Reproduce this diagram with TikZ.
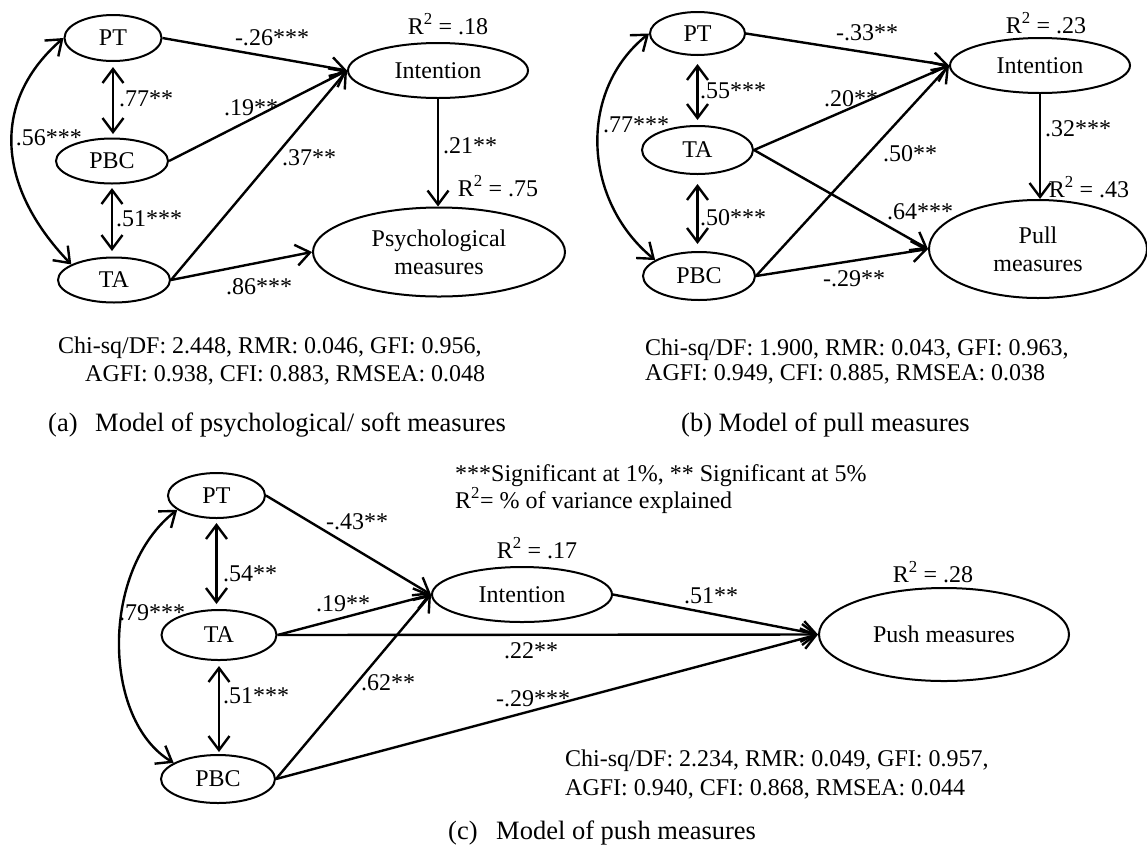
\documentclass[tikz,border=0pt]{standalone}
\usepackage{fontspec}
\setmainfont{Liberation Serif}
\usetikzlibrary{shapes.geometric,arrows.meta}
\begin{document}
\begin{tikzpicture}[x=1pt,y=-1pt,
  every node/.style={font=\fontsize{24}{28}\selectfont, inner sep=0pt},
  latent/.style={ellipse, draw, line width=2pt, align=center},
  coef/.style={text height=16pt, text depth=0pt},
  txt/.style={anchor=west, text height=16pt, text depth=0pt},
  caption/.style={anchor=west, text height=17.5pt, text depth=0pt, font=\fontsize{26.5}{30}\selectfont},
  barb/.tip={Straight Barb[length=14pt,width=21pt]},
  arr/.style={line width=2.4pt, -barb},
  dbl/.style={line width=2.4pt, barb-barb},
  ]
\useasboundingbox (0,0) rectangle (1147,847);

% ---------------- (a) psychological / soft measures ----------------
\node[latent, minimum width=97pt,  minimum height=46pt] (PTa)  at (113,38)    {PT};
\node[latent, minimum width=112pt, minimum height=45pt] (PBCa) at (112,161)   {PBC};
\node[latent, minimum width=112pt, minimum height=45pt] (TAa)  at (114,280)   {TA};
\node[latent, minimum width=180pt, minimum height=55pt] (INTa) at (438,70.5)  {Intention};
\node[latent, minimum width=252pt, minimum height=89pt] (PSYa) at (439,252)   {Psychological\\measures};

\draw[arr] (PTa.east)  -- (INTa.west);
\draw[arr] (PBCa.east) -- (INTa.west);
\draw[arr] (TAa.east)  -- (INTa.west);
\draw[arr] (TAa.east)  -- (PSYa.west);
\draw[arr] (INTa.south) -- (INTa.south |- PSYa.north);
\draw[dbl, shorten <=5pt, shorten >=3.5pt] (PTa.south) -- (PTa.south |- PBCa.north);
\draw[dbl, shorten <=3.5pt, shorten >=5.5pt] (PBCa.south) -- (PBCa.south |- TAa.north);
\draw[dbl] (PTa.west) .. controls (-8,100) and (-5,185) .. (TAa.160);

\node[coef] (r2a1) at (448,26)  {R\textsuperscript{2} = .18};
\node[coef] (r2a2) at (498,188) {R\textsuperscript{2} = .75};
\node[coef] (ca1) at (470,145) {.21**};
\node[coef] (ca2) at (272,37)  {-.26***};
\node[coef] (ca3) at (146,98)  {.77**};
\node[coef] (ca4) at (251,107) {.19**};
\node[coef] (ca5) at (49,137)  {.56***};
\node[coef] (ca6) at (309,157) {.37**};
\node[coef] (ca7) at (149,218) {.51***};
\node[coef] (ca8) at (259,286) {.86***};

\node[txt] (fita1) at (58,345) {Chi-sq/DF: 2.448, RMR: 0.046, GFI: 0.956,};
\node[txt] (fita2) at (85,373) {AGFI: 0.938, CFI: 0.883, RMSEA: 0.048};
\node[caption] (capa) at (48,423) {(a)\hspace{11pt} Model of psychological/ soft measures};

% ---------------- (b) pull measures ----------------
\node[latent, minimum width=95pt,  minimum height=43pt] (PTb)  at (697.5,33.5) {PT};
\node[latent, minimum width=111pt, minimum height=48pt] (TAb)  at (697.5,150)  {TA};
\node[latent, minimum width=112pt, minimum height=48pt] (PBCb) at (699,276)    {PBC};
\node[latent, minimum width=180pt, minimum height=55pt] (INTb) at (1040,65.5)  {Intention};
\node[latent, minimum width=218pt, minimum height=98pt] (PULb) at (1038,249)   {Pull\\measures};

\draw[arr] (PTb.east)  -- (INTb.west);
\draw[arr] (TAb.east)  -- (INTb.west);
\draw[arr] (PBCb.east) -- (INTb.west);
\draw[arr] (TAb.east)  -- (PULb.west);
\draw[arr] (PBCb.east) -- (PULb.west);
\draw[arr] (INTb.south) -- (INTb.south |- PULb.north);
\draw[dbl, shorten <=8pt, shorten >=5pt] (PTb.south) -- (PTb.south |- TAb.north);
\draw[dbl, shorten <=9pt, shorten >=7pt] (TAb.south) -- (TAb.south |- PBCb.north);
\draw[dbl] (PTb.west) .. controls (578,90) and (582,200) .. (PBCb.160);

\node[coef] (r2b1) at (1046,25)  {R\textsuperscript{2} = .23};
\node[coef] (r2b2) at (1089,189) {R\textsuperscript{2} = .43};
\node[coef] (cb1) at (1078,128) {.32***};
\node[coef] (cb2) at (910,153)  {.50**};
\node[coef] (cb3) at (920,211)  {.64***};
\node[coef] (cb4) at (854,278)  {-.29**};
\node[coef] (cb5) at (851,98)   {.20**};
\node[coef] (cb6) at (867,32)   {-.33**};
\node[coef] (cb7) at (733,90)   {.55***};
\node[coef] (cb8) at (636,124)  {.77***};
\node[coef] (cb9) at (733,217)  {.50***};

\node[txt] (fitb1) at (645,347) {Chi-sq/DF: 1.900, RMR: 0.043, GFI: 0.963,};
\node[txt] (fitb2) at (645,372) {AGFI: 0.949, CFI: 0.885, RMSEA: 0.038};
\node[caption] (capb) at (681,423) {(b) Model of pull measures};

% ---------------- (c) push measures ----------------
\node[latent, minimum width=97pt,  minimum height=45pt] (PTc)  at (216.5,495.5) {PT};
\node[latent, minimum width=115pt, minimum height=50pt] (TAc)  at (219,635)     {TA};
\node[latent, minimum width=114pt, minimum height=48pt] (PBCc) at (218,779)     {PBC};
\node[latent, minimum width=180pt, minimum height=55pt] (INTc) at (522,594.5)   {Intention};
\node[latent, minimum width=250pt, minimum height=93pt] (PUSc) at (944,634.5)   {Push measures};

\draw[arr] (PTc.east)  -- (INTc.west);
\draw[arr] (TAc.east)  -- (INTc.west);
\draw[arr] (PBCc.east) -- (INTc.west);
\draw[arr] (INTc.east) -- (PUSc.west);
\draw[arr] (TAc.east)  -- (PUSc.west);
\draw[arr] (PBCc.east) -- (PUSc.west);
\draw[dbl, shorten <=4pt, shorten >=5pt] (PTc.south) -- (PTc.south |- TAc.north);
\draw[dbl, shorten <=5pt, shorten >=2pt] (TAc.south) -- (TAc.south |- PBCc.north);
\draw[dbl] (PTc.200) .. controls (100,570) and (102,720) .. (PBCc.160);

\node[coef] (r2c1) at (537,550) {R\textsuperscript{2} = .17};
\node[coef] (r2c2) at (933,574) {R\textsuperscript{2} = .28};
\node[coef] (cc1) at (711,595) {.51**};
\node[coef] (cc2) at (531,650) {.22**};
\node[coef] (cc3) at (357,521) {-.43**};
\node[coef] (cc4) at (250,573) {.54**};
\node[coef] (cc5) at (343,603) {.19**};
\node[coef] (cc6) at (152,612) {.79***};
\node[coef] (cc7) at (256,695) {.51***};
\node[coef] (cc8) at (388,682) {.62**};
\node[coef] (cc9) at (533,698) {-.29***};

\node[txt] (key1) at (455,473) {***Significant at 1\%, ** Significant at 5\%};
\node[txt] (key2) at (455,500) {R\textsuperscript{2}= \% of variance explained};

\node[txt] (fitc1) at (565,758) {Chi-sq/DF: 2.234, RMR: 0.049, GFI: 0.957,};
\node[txt] (fitc2) at (565,787) {AGFI: 0.940, CFI: 0.868, RMSEA: 0.044};
\node[caption] (capc) at (448,831) {(c)\hspace{12pt} Model of push measures};
\end{tikzpicture}
\end{document}
